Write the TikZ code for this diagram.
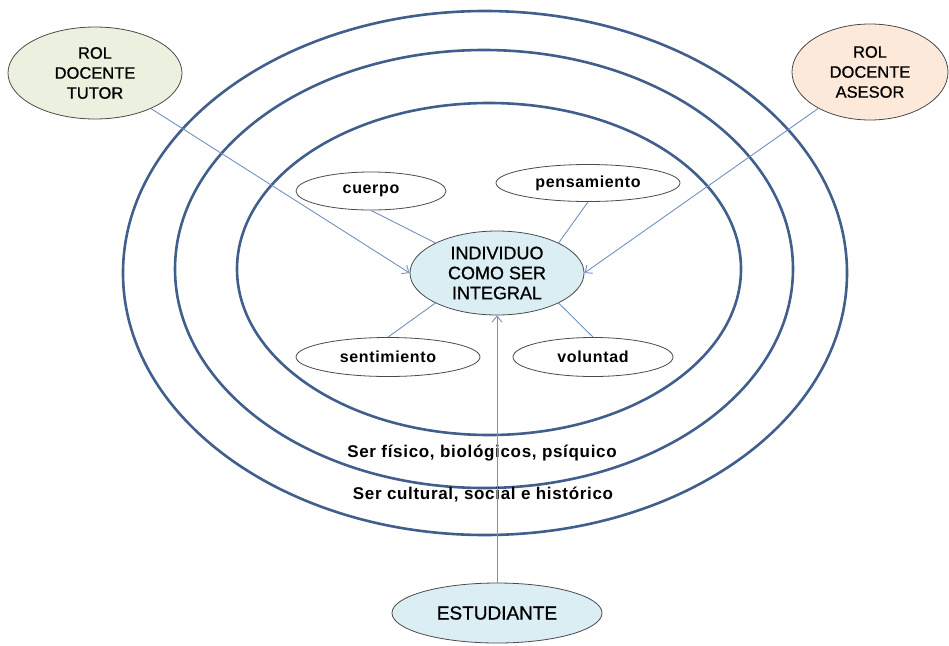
\documentclass[tikz,border=0pt]{standalone}
\usepackage{fontspec}
\setmainfont{Liberation Sans}
\newfontfamily\spacedfont[LetterSpace=4]{Liberation Sans}
\newfontfamily\heavyfont[FakeBold=0.8]{Liberation Sans}
\usetikzlibrary{shapes.geometric,arrows.meta}
\definecolor{ringc}{RGB}{65,95,140}
\definecolor{linkc}{RGB}{115,145,195}
\definecolor{edgec}{RGB}{75,75,75}
\definecolor{tutorc}{RGB}{235,241,222}
\definecolor{asesorc}{RGB}{253,233,217}
\definecolor{bluec}{RGB}{219,238,244}
\tikzset{
  ring/.style={draw=ringc, line width=2.6pt},
  oval/.style={ellipse, draw=edgec, line width=0.8pt, inner sep=0pt, align=center, text=black},
  smalloval/.style={oval, fill=white, font=\spacedfont\fontsize{16}{19}\selectfont\bfseries},
  bigoval/.style={oval, font=\heavyfont\fontsize{16.5}{20}\selectfont},
  link/.style={draw=linkc, line width=0.9pt},
  arrowlink/.style={link, -{Straight Barb[length=6pt,width=10pt,line width=0.9pt]}},
  label/.style={font=\spacedfont\fontsize{17}{20}\selectfont\bfseries, inner sep=0pt}
}
\begin{document}
\begin{tikzpicture}[x=1pt,y=-1pt]
\useasboundingbox (0,0) rectangle (949,645);
\fill[white] (0,0) rectangle (949,645);
% rings
\draw[ring] (485,273) ellipse [x radius=362pt, y radius=262pt];
\draw[ring] (484,269) ellipse [x radius=309pt, y radius=219pt];
\draw[ring] (489,269) ellipse [x radius=252pt, y radius=166pt];
% nodes
\node[bigoval, fill=tutorc, minimum width=174pt, minimum height=92pt] (tutor) at (95,73) {ROL\\DOCENTE\\TUTOR};
\node[bigoval, fill=asesorc, minimum width=156pt, minimum height=96pt] (asesor) at (870,72) {ROL\\DOCENTE\\ASESOR};
\node[bigoval, fill=bluec, minimum width=174pt, minimum height=84pt, font=\heavyfont\fontsize{18}{20}\selectfont] (ind) at (497,273) {INDIVIDUO\\COMO SER\\INTEGRAL};
\node[bigoval, fill=bluec, minimum width=210pt, minimum height=60pt, font=\heavyfont\fontsize{19}{21}\selectfont] (est) at (497,613) {ESTUDIANTE};
\node[smalloval, minimum width=150pt, minimum height=38pt] (cue) at (371,191) {cuerpo};
\node[smalloval, minimum width=184pt, minimum height=37pt] (pen) at (588,183) {pensamiento};
\node[smalloval, minimum width=184pt, minimum height=39pt] (sen) at (388,357) {sentimiento};
\node[smalloval, minimum width=160pt, minimum height=39pt] (vol) at (593,357) {voluntad};
% labels
\node[label] (fis) at (482,453) {Ser físico, biológicos, psíquico};
\node[label] (cul) at (483,495) {Ser cultural, social e histórico};
% connectors
\draw[link] (cue.south) -- (ind.154);
\draw[link] (pen.south) -- (ind.26);
\draw[link] (sen.north) -- (ind.206);
\draw[link] (vol.north) -- (ind.334);
\draw[arrowlink] (tutor) -- (ind.west);
\draw[arrowlink] (asesor) -- (ind.east);
\draw[arrowlink] (est) -- (ind.south);
\end{tikzpicture}
\end{document}
